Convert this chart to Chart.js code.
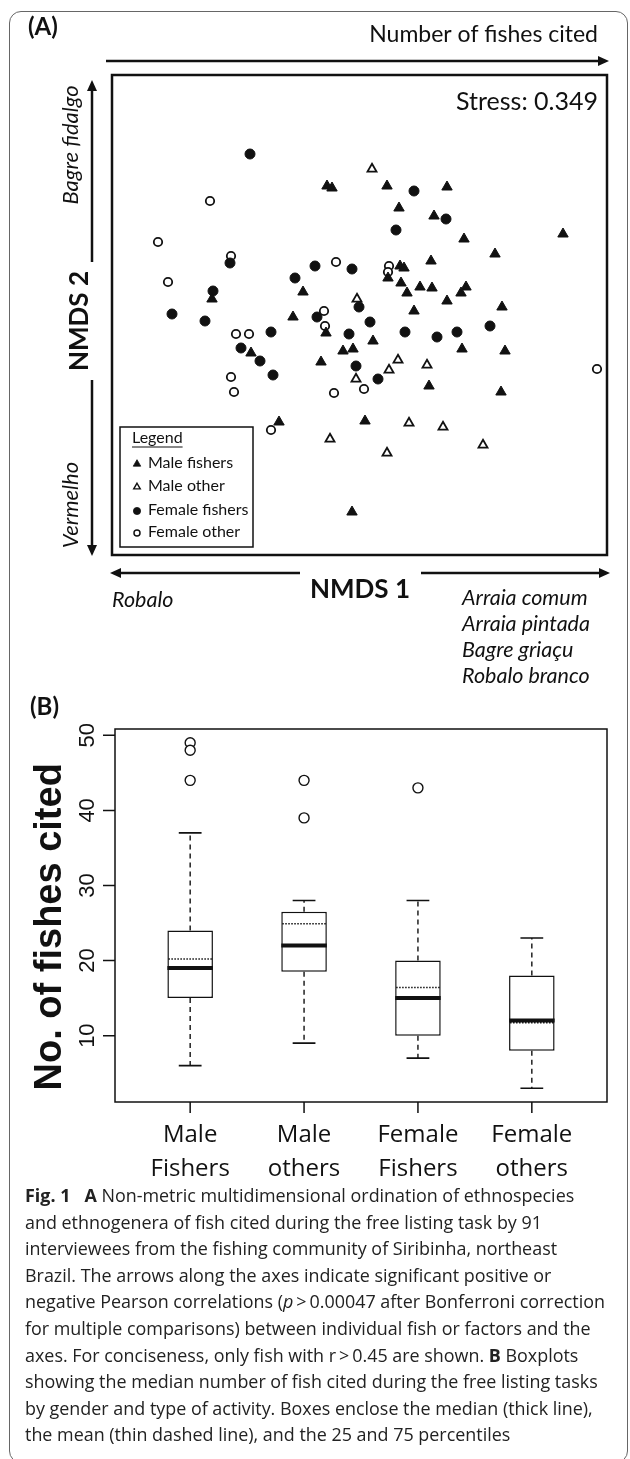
<!DOCTYPE html>
<html>
<head>
<meta charset="utf-8">
<script src="https://cdn.jsdelivr.net/npm/chart.js@4.4.1/dist/chart.umd.min.js"></script>
<style>
  html, body { margin: 0; padding: 0; background: #fff; }
  body { width: 630px; height: 1459px; position: relative; overflow: hidden; }
  #frame { position: absolute; left: 9px; top: 11px; width: 619px; height: 1452px;
           border: 1.5px solid #666; border-radius: 12px; box-sizing: border-box; }
  #panelA { position: absolute; left: 0; top: 0; }
  #panelB { position: absolute; left: 0; top: 690px; }
  #caption { position: absolute; left: 25px; top: 1182px; font-family: "Open Sans", sans-serif;
             font-size: 18px; line-height: 26.6px; color: #222; white-space: nowrap;
             transform-origin: 0 0; }
</style>
</head>
<body>
<div id="frame"></div>
<canvas id="panelA" width="630" height="700"></canvas>
<canvas id="panelB" width="630" height="500"></canvas>
<div id="caption">
  <div><b>Fig. 1</b>&nbsp;&nbsp;&nbsp;<b>A</b> Non-metric multidimensional ordination of ethnospecies</div>
  <div>and ethnogenera of fish cited during the free listing task by 91</div>
  <div>interviewees from the fishing community of Siribinha, northeast</div>
  <div>Brazil. The arrows along the axes indicate significant positive or</div>
  <div id="longLine">negative Pearson correlations (<i>p</i>&thinsp;&gt;&thinsp;0.00047 after Bonferroni correction</div>
  <div>for multiple comparisons) between individual fish or factors and the</div>
  <div>axes. For conciseness, only fish with r&thinsp;&gt;&thinsp;0.45 are shown. <b>B</b> Boxplots</div>
  <div>showing the median number of fish cited during the free listing tasks</div>
  <div>by gender and type of activity. Boxes enclose the median (thick line),</div>
  <div>the mean (thin dashed line), and the 25 and 75 percentiles</div>
</div>
<script>
// ---- panel A: NMDS scores [NMDS1, NMDS2] ----
const maleFishers = [
  [-0.33, 1.29], [-0.28, 1.27], [0.27, 1.29], [0.87, 1.28], [0.39, 1.07], [0.74, 0.99],
  [1.04, 0.76], [2.03, 0.81], [1.35, 0.61], [0.71, 0.54], [0.28, 0.37], [0.40, 0.49],
  [0.44, 0.47], [0.41, 0.32], [0.60, 0.28], [0.72, 0.27], [0.47, 0.22], [1.06, 0.28],
  [1.01, 0.22], [0.87, 0.14], [1.42, 0.08], [0.54, 0.04], [-0.57, 0.23], [-1.48, 0.16],
  [-0.67, -0.02], [-0.34, -0.18], [0.13, -0.26], [-0.17, -0.36], [-0.07, -0.34], [1.02, -0.34],
  [1.45, -0.36], [-1.09, -0.38], [-0.39, -0.47], [0.69, -0.71], [1.41, -0.77], [-0.81, -1.07],
  [0.05, -1.06], [-0.08, -1.97]
];
const maleOther = [
  [0.12, 1.46], [-0.03, 0.16], [0.38, -0.45], [0.29, -0.55], [0.67, -0.50], [-0.04, -0.64],
  [0.49, -1.08], [0.83, -1.12], [1.23, -1.30], [0.27, -1.38], [-0.30, -1.24]
];
const femaleFishers = [
  [-1.10, 1.61], [0.54, 1.24], [0.86, 0.96], [0.36, 0.85], [-1.30, 0.52], [-0.45, 0.49],
  [-0.08, 0.46], [-0.65, 0.37], [-1.47, 0.24], [-1.88, 0.01], [-1.55, -0.06], [-0.01, 0.08],
  [-0.43, -0.02], [0.10, -0.07], [-0.11, -0.19], [0.45, -0.17], [0.77, -0.22], [0.97, -0.17],
  [1.30, -0.11], [-0.89, -0.17], [-1.19, -0.33], [-1.00, -0.46], [-0.87, -0.60], [-0.04, -0.51],
  [0.18, -0.64]
];
const femaleOther = [
  [-1.50, 1.14], [-2.02, 0.73], [-1.29, 0.59], [-0.24, 0.53], [-1.92, 0.33], [0.29, 0.49],
  [0.28, 0.43], [-0.36, 0.04], [-0.35, -0.11], [-1.24, -0.19], [-1.11, -0.19], [-1.29, -0.62],
  [-1.26, -0.77], [-0.26, -0.78], [0.04, -0.74], [-0.89, -1.15], [2.37, -0.54]
];
const legendLabels = ['Male fishers', 'Male other', 'Female fishers', 'Female other'];
const stressValue = 0.349;

// ---- panel B: boxplot summaries ----
const groups = [['Male', 'Fishers'], ['Male', 'others'], ['Female', 'Fishers'], ['Female', 'others']];
const q1 = [15, 18.5, 10, 8];
const q3 = [24, 26.5, 20, 18];
const medians = [19, 22, 15, 12];
const means = [20.2, 24.9, 16.4, 11.7];
const whiskerLow = [6, 9, 7, 3];
const whiskerHigh = [37, 28, 28, 23];
const outliers = [[49, 48, 44], [44, 39], [43], []];
const yTicks = [10, 20, 30, 40, 50];

const INK = '#111';

function toXY(arr) {
    return arr.map(p => ({ x: p[0], y: p[1] }));
}

function arrow(ctx, x1, y1, x2, y2) {
    const a = Math.atan2(y2 - y1, x2 - x1);
    const hl = 11, hw = 5;
    ctx.beginPath();
    ctx.moveTo(x1, y1);
    ctx.lineTo(x2 - Math.cos(a) * hl * 0.8, y2 - Math.sin(a) * hl * 0.8);
    ctx.stroke();
    ctx.beginPath();
    ctx.moveTo(x2, y2);
    ctx.lineTo(x2 - Math.cos(a) * hl + Math.sin(a) * hw, y2 - Math.sin(a) * hl - Math.cos(a) * hw);
    ctx.lineTo(x2 - Math.cos(a) * hl - Math.sin(a) * hw, y2 - Math.sin(a) * hl + Math.cos(a) * hw);
    ctx.closePath();
    ctx.fill();
}

function vText(ctx, s, x, y, font, baseline) {
    ctx.save();
    ctx.translate(x, y);
    ctx.rotate(-Math.PI / 2);
    ctx.font = font;
    ctx.textAlign = 'center';
    ctx.textBaseline = baseline || 'middle';
    ctx.fillText(s, 0, 0);
    ctx.restore();
}

const markerStyles = [
    { pointStyle: 'triangle', radius: 6, fill: INK, border: 1 },
    { pointStyle: 'triangle', radius: 5.2, fill: '#fff', border: 1.8 },
    { pointStyle: 'circle', radius: 5, fill: INK, border: 1 },
    { pointStyle: 'circle', radius: 4.2, fill: '#fff', border: 1.8 }
];

const nmdsDecor = {
    id: 'nmdsDecor',
    afterDraw(chart) {
        const ctx = chart.ctx;
        const a = chart.chartArea;
        ctx.save();
        ctx.strokeStyle = INK;
        ctx.fillStyle = INK;

        // plot frame
        ctx.lineWidth = 2.5;
        ctx.strokeRect(a.left, a.top, a.right - a.left, a.bottom - a.top);

        // panel tag + top arrow
        ctx.font = 'bold 24px Lato';
        ctx.textBaseline = 'middle';
        ctx.textAlign = 'left';
        ctx.fillText('(A)', 28, 27);
        ctx.font = '23px Lato';
        ctx.textAlign = 'right';
        ctx.fillText('Number of fishes cited', 598, 35);
        ctx.lineWidth = 2.5;
        arrow(ctx, a.left - 6, 61, a.right + 2, 61);

        ctx.font = '25px Lato';
        ctx.fillText('Stress: ' + stressValue.toFixed(3), a.right - 9, 102);

        // NMDS 2 (left side)
        arrow(ctx, 92, 262, 92, 80);
        arrow(ctx, 92, 380, 92, a.bottom + 1);
        vText(ctx, 'NMDS 2', 80, 321, 'bold 26px Lato');
        vText(ctx, 'Bagre fidalgo', 71, 145, 'italic 22px Lato');
        vText(ctx, 'Vermelho', 71, 505, 'italic 22px Lato');

        // NMDS 1 (bottom)
        arrow(ctx, 300, 573, a.left - 2, 573);
        arrow(ctx, 421, 573, a.right + 3, 573);
        ctx.font = 'bold 26px Lato';
        ctx.textAlign = 'center';
        ctx.fillText('NMDS 1', 360, 590);
        ctx.font = 'italic 21.5px Lato';
        ctx.textAlign = 'left';
        ctx.fillText('Robalo', a.left, 600);
        ['Arraia comum', 'Arraia pintada', 'Bagre griaçu', 'Robalo branco'].forEach((s, i) => {
            ctx.fillText(s, 462, 598 + i * 26);
        });

        // inset legend
        const lx = 120, ly = 427, lw = 133, lh = 120;
        ctx.fillStyle = '#fff';
        ctx.fillRect(lx, ly, lw, lh);
        ctx.fillStyle = INK;
        ctx.lineWidth = 1.5;
        ctx.strokeRect(lx, ly, lw, lh);
        ctx.font = '16px Lato';
        ctx.textAlign = 'left';
        ctx.fillText('Legend', 132, 438);
        const uw = ctx.measureText('Legend').width;
        ctx.lineWidth = 1.2;
        ctx.beginPath();
        ctx.moveTo(132, 447);
        ctx.lineTo(132 + uw, 447);
        ctx.stroke();
        const rows = [463, 486, 510, 532];
        legendLabels.forEach((s, i) => {
            const m = markerStyles[i];
            ctx.fillStyle = m.fill;
            ctx.lineWidth = m.border * 0.8;
            Chart.helpers.drawPoint(ctx, {
                pointStyle: m.pointStyle, radius: m.radius * 0.72,
                borderWidth: m.border * 0.8, rotation: 0
            }, 137, rows[i] + 1);
            ctx.fillStyle = INK;
            ctx.fillText(s, 148, rows[i]);
        });
        ctx.restore();
    }
};

function scatterSet(label, arr, m) {
    return {
        label: label,
        data: toXY(arr),
        pointStyle: m.pointStyle,
        pointRadius: m.radius,
        pointHoverRadius: m.radius,
        pointBackgroundColor: m.fill,
        pointBorderColor: INK,
        pointBorderWidth: m.border
    };
}

new Chart(document.getElementById('panelA'), {
    type: 'scatter',
    data: {
        datasets: [
            scatterSet(legendLabels[0], maleFishers, markerStyles[0]),
            scatterSet(legendLabels[1], maleOther, markerStyles[1]),
            scatterSet(legendLabels[2], femaleFishers, markerStyles[2]),
            scatterSet(legendLabels[3], femaleOther, markerStyles[3])
        ]
    },
    options: {
        responsive: false,
        animation: false,
        layout: { padding: { left: 112, right: 23, top: 75, bottom: 145 } },
        plugins: { legend: { display: false }, tooltip: { enabled: false } },
        scales: {
            x: { type: 'linear', min: -2.48, max: 2.47, display: false },
            y: { type: 'linear', min: -2.40, max: 2.40, display: false }
        }
    },
    plugins: [nmdsDecor]
});

// ---- panel B ----
const boxDecor = {
    id: 'boxDecor',
    afterDatasetsDraw(chart) {
        const ctx = chart.ctx;
        const xs = chart.scales.x, ys = chart.scales.y;
        const bars = chart.getDatasetMeta(0).data;
        ctx.save();
        ctx.strokeStyle = INK;
        ctx.fillStyle = INK;
        groups.forEach((g, i) => {
            const cx = xs.getPixelForValue(i + 1);
            const half = bars[i].width / 2;
            // whiskers
            ctx.lineWidth = 1.4;
            ctx.setLineDash([5, 4]);
            ctx.beginPath();
            ctx.moveTo(cx, ys.getPixelForValue(q3[i]));
            ctx.lineTo(cx, ys.getPixelForValue(whiskerHigh[i]));
            ctx.moveTo(cx, ys.getPixelForValue(q1[i]));
            ctx.lineTo(cx, ys.getPixelForValue(whiskerLow[i]));
            ctx.stroke();
            ctx.setLineDash([]);
            ctx.lineWidth = 1.6;
            ctx.beginPath();
            [whiskerHigh[i], whiskerLow[i]].forEach(v => {
                const y = ys.getPixelForValue(v);
                ctx.moveTo(cx - half / 2, y);
                ctx.lineTo(cx + half / 2, y);
            });
            ctx.stroke();
            // mean (dotted)
            ctx.lineWidth = 1.5;
            ctx.setLineDash([1.5, 1.5]);
            ctx.beginPath();
            ctx.moveTo(cx - half + 1, ys.getPixelForValue(means[i]));
            ctx.lineTo(cx + half - 1, ys.getPixelForValue(means[i]));
            ctx.stroke();
            ctx.setLineDash([]);
            // median (thick)
            ctx.lineWidth = 4;
            ctx.beginPath();
            ctx.moveTo(cx - half, ys.getPixelForValue(medians[i]));
            ctx.lineTo(cx + half, ys.getPixelForValue(medians[i]));
            ctx.stroke();
        });
        ctx.restore();
    },
    afterDraw(chart) {
        const ctx = chart.ctx;
        const a = chart.chartArea;
        const xs = chart.scales.x, ys = chart.scales.y;
        ctx.save();
        ctx.strokeStyle = INK;
        ctx.fillStyle = INK;
        ctx.lineWidth = 1.5;
        ctx.strokeRect(a.left, a.top, a.right - a.left, a.bottom - a.top);
        // y ticks + rotated labels
        ctx.beginPath();
        yTicks.forEach(v => {
            const y = ys.getPixelForValue(v);
            ctx.moveTo(a.left - 12, y);
            ctx.lineTo(a.left, y);
        });
        groups.forEach((g, i) => {
            const x = xs.getPixelForValue(i + 1);
            ctx.moveTo(x, a.bottom);
            ctx.lineTo(x, a.bottom + 11);
        });
        ctx.stroke();
        yTicks.forEach(v => {
            vText(ctx, String(v), a.left - 27, ys.getPixelForValue(v), '22px "Liberation Sans"');
        });
        vText(ctx, 'No. of fishes cited', 61, ys.getPixelForValue(24.5), 'bold 38px "Liberation Sans"', 'alphabetic');
        // category labels
        ctx.font = '24px "Open Sans"';
        ctx.textAlign = 'center';
        ctx.textBaseline = 'middle';
        groups.forEach((g, i) => {
            const x = xs.getPixelForValue(i + 1);
            ctx.fillText(g[0], x, a.bottom + 33);
            ctx.fillText(g[1], x, a.bottom + 67);
        });
        ctx.font = 'bold 24px Lato';
        ctx.textAlign = 'left';
        ctx.fillText('(B)', 30, 17);
        ctx.restore();
    }
};

const outlierPoints = [];
outliers.forEach((list, i) => list.forEach(v => outlierPoints.push({ x: i + 1, y: v })));

new Chart(document.getElementById('panelB'), {
    type: 'bar',
    data: {
        datasets: [
            {
                type: 'bar',
                label: 'IQR',
                data: q1.map((v, i) => ({ x: i + 1, y: [v, q3[i]] })),
                backgroundColor: '#fff',
                borderColor: INK,
                borderWidth: 1.5,
                borderSkipped: false,
                barPercentage: 0.8,
                categoryPercentage: 1.0
            },
            {
                type: 'scatter',
                label: 'Outliers',
                data: outlierPoints,
                pointStyle: 'circle',
                pointRadius: 5,
                pointBackgroundColor: '#fff',
                pointBorderColor: INK,
                pointBorderWidth: 1.4
            }
        ]
    },
    options: {
        responsive: false,
        animation: false,
        layout: { padding: { left: 115, right: 23, top: 39, bottom: 88 } },
        plugins: { legend: { display: false }, tooltip: { enabled: false } },
        scales: {
            x: { type: 'linear', min: 0.34, max: 4.66, offset: false, display: false },
            y: { type: 'linear', min: 1.16, max: 50.84, display: false }
        }
    },
    plugins: [boxDecor]
});

// fit caption lines to the printed measure
(function () {
    const cap = document.getElementById('caption');
    const ref = document.getElementById('longLine');
    const w = ref.getBoundingClientRect().width;
    const k = 580 / w;
    cap.style.transform = 'scaleX(' + k.toFixed(4) + ')';
})();
</script>
</body>
</html>
